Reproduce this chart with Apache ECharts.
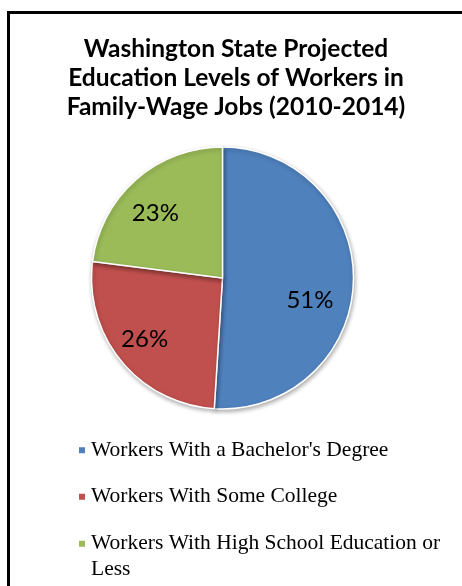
<!DOCTYPE html>
<html>
<head>
<meta charset="utf-8">
<script src="https://cdn.jsdelivr.net/npm/echarts@6/dist/echarts.min.js"></script>
<style>
html,body{margin:0;padding:0;background:#fff;}
#chart{width:462px;height:586px;}
</style>
</head>
<body>
<div id="chart"></div>
<script>
const titleText = 'Washington State Projected\nEducation Levels of Workers in\nFamily-Wage Jobs (2010-2014)';
const categories = ["Workers With a Bachelor's Degree", 'Workers With Some College', 'Workers With High School Education or Less'];
const values = [51, 26, 23];
const colors = ['#4F81BD', '#C0504D', '#9BBB59'];

const chart = echarts.init(document.getElementById('chart'), null, {renderer: 'canvas'});

const pieData = categories.map((c, i) => ({name: c, value: values[i], itemStyle: {color: colors[i]}}));
const labelOffsets = [[-11, 19], [-2, -2], [-2, 9]];
const ghostData = categories.map((c, i) => ({
  name: c, value: values[i],
  label: {offset: labelOffsets[i]}
}));

const legendText = {fontFamily: 'Liberation Serif', fontSize: 21.5, color: '#000', lineHeight: 25.5, width: 360, overflow: 'break'};
const legendTops = [437.5, 484, 505.5];

const legends = categories.map((c, i) => ({
  orient: 'vertical', left: 77, top: legendTops[i], padding: 0,
  itemWidth: 8, itemHeight: 8, icon: 'rect', selectedMode: false,
  data: [c],
  formatter: i === 2 ? (n => '\n' + n) : (n => n),
  textStyle: legendText
}));

chart.setOption({
  animation: false,
  backgroundColor: '#fff',
  title: {
    text: titleText,
    left: 236, top: 35, padding: 0,
    textAlign: 'center',
    textStyle: {fontFamily: 'Lato', fontWeight: 'bold', fontSize: 24.5, lineHeight: 29, color: '#000'}
  },
  legend: legends,
  graphic: [{
    type: 'rect', silent: true,
    shape: {x: 8.5, y: 12.5, width: 600, height: 700},
    style: {fill: 'none', stroke: '#000', lineWidth: 3}
  }],
  series: [{
    type: 'pie',
    center: [222.5, 278],
    radius: [0, 131],
    startAngle: 90,
    clockwise: true,
    data: pieData,
    label: {show: false},
    labelLine: {show: false},
    itemStyle: {borderColor: '#fff', borderWidth: 1.5, shadowBlur: 4, shadowOffsetX: 1, shadowOffsetY: 2, shadowColor: 'rgba(0,0,0,0.3)'},
    emphasis: {disabled: true},
    silent: true
  }, {
    type: 'pie',
    center: [222.5, 278],
    radius: [60, 131],
    startAngle: 90,
    clockwise: true,
    data: ghostData,
    itemStyle: {color: 'rgba(0,0,0,0)'},
    label: {
      show: true, position: 'inside',
      formatter: p => p.value + '%',
      fontFamily: 'Lato', fontSize: 24, color: '#000'
    },
    labelLine: {show: false},
    emphasis: {disabled: true},
    silent: true
  }]
});
</script>
</body>
</html>
